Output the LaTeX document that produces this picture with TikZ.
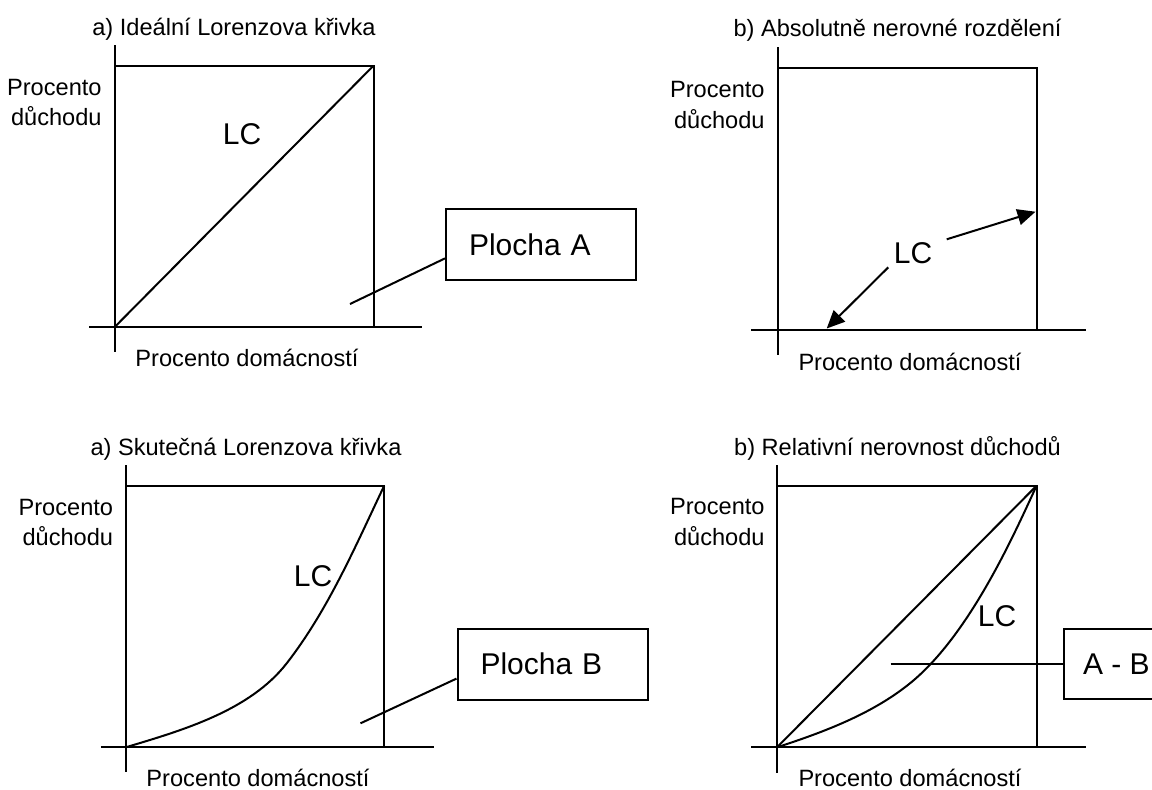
\documentclass[tikz,border=0pt]{standalone}
\usepackage{fontspec}
\setmainfont{Liberation Sans}
\usetikzlibrary{arrows.meta,calc}
\begin{document}
\begin{tikzpicture}[x=0.5pt,y=-0.5pt,
  ln/.style={line width=1pt},
  lbl/.style={font=\fontsize{11.8pt}{14pt}\selectfont, inner sep=0pt, anchor=base},
  lblr/.style={font=\fontsize{11.8pt}{14pt}\selectfont, inner sep=0pt, anchor=base east},
  big/.style={font=\fontsize{15pt}{18pt}\selectfont, inner sep=0pt, anchor=base},
  boxnode/.style={draw, line width=1pt, font=\fontsize{15pt}{18pt}\selectfont, anchor=west,
    minimum height=35.5pt, inner ysep=0pt, text width=72pt, inner xsep=11.5pt, align=left},
  abbox/.style={draw, line width=1pt, font=\fontsize{15pt}{18pt}\selectfont, anchor=west,
    minimum height=35pt, inner ysep=0pt, inner xsep=9.5pt},
  arr/.style={line width=1pt, -{Triangle[length=9pt,width=8pt]}}]
\useasboundingbox (0,0) rectangle (1152,789);
\clip (0,0) rectangle (1152,789);

% ---------- Panel 1 ----------
\coordinate (O1) at (115,326.7);
\coordinate (T1) at (373.5,65.7);
\coordinate (v1a) at (115,45);   \coordinate (v1b) at (115,352);
\coordinate (h1a) at (89,326.7); \coordinate (h1b) at (422,326.7);
\draw[ln] (v1a) -- (v1b);
\draw[ln] (h1a) -- (h1b);
\draw[ln] (O1 |- T1) -- (T1) -- (T1 |- O1);
\draw[ln] (O1) -- (T1);
\node[lbl] (t1) at (234,35.5) {a) Ideální Lorenzova křivka};
\node[lblr] (p1a) at (102,95) {Procento};
\node[lblr] (p1b) at (102,125) {důchodu};
\node[lbl] (x1) at (247,366.7) {Procento domácností};
\node[big] (lc1) at (242,144) {LC};
\node[boxnode] (boxA) at (445,244.5) {Plocha A};
\coordinate (pA) at (350,304);
\draw[ln] (pA) -- ($(boxA.south west)!0.31!(boxA.north west)$);

% ---------- Panel 2 ----------
\coordinate (O2) at (777.8,330);
\coordinate (T2) at (1036.6,68.3);
\coordinate (v2a) at (777.8,47);   \coordinate (v2b) at (777.8,355);
\coordinate (h2a) at (751,330);    \coordinate (h2b) at (1086,330);
\draw[ln] (v2a) -- (v2b);
\draw[ln] (h2a) -- (h2b);
\draw[ln] (O2 |- T2) -- (T2) -- (T2 |- O2);
\node[lbl] (t2) at (897.5,36) {b) Absolutně nerovné rozdělení};
\node[lblr] (p2a) at (765,97.3) {Procento};
\node[lblr] (p2b) at (765,128) {důchodu};
\node[lbl] (x2) at (910,370) {Procento domácností};
\node[big] (lc2) at (913,263.3) {LC};
\coordinate (a1s) at (946.7,239.3); \coordinate (a1e) at (1035.5,211.7);
\coordinate (a2s) at (888.3,267.3); \coordinate (a2e) at (826.7,328.5);
\draw[arr] (a1s) -- (a1e);
\draw[arr] (a2s) -- (a2e);

% ---------- Panel 3 ----------
\coordinate (O3) at (125.7,747.3);
\coordinate (T3) at (384.2,485.7);
\coordinate (m3) at (286.7,663.3);
\coordinate (v3a) at (125.7,465);   \coordinate (v3b) at (125.7,771.7);
\coordinate (h3a) at (100.8,747.3); \coordinate (h3b) at (433.6,747.3);
\draw[ln] (v3a) -- (v3b);
\draw[ln] (h3a) -- (h3b);
\draw[ln] (O3 |- T3) -- (T3) -- (T3 |- O3);
\draw[ln] (O3) .. controls (183.2,730.1) and (249.9,710.6) .. (m3)
               .. controls (328.1,610) and (355.2,546.7) .. (T3);
\node[lbl] (t3) at (246,455) {a) Skutečná Lorenzova křivka};
\node[lblr] (p3a) at (113.5,515) {Procento};
\node[lblr] (p3b) at (113.5,545) {důchodu};
\node[lbl] (x3) at (258,786) {Procento domácností};
\node[big] (lc3) at (313,586.5) {LC};
\node[boxnode] (boxB) at (456.5,664) {Plocha B};
\coordinate (pB) at (360.5,723.3);
\draw[ln] (pB) -- ($(boxB.south west)!0.30!(boxB.north west)$);

% ---------- Panel 4 ----------
\coordinate (O4) at (777,747.3);
\coordinate (T4) at (1036.6,485.7);
\coordinate (m4) at (910,683.3);
\coordinate (v4a) at (777,465);     \coordinate (v4b) at (777,773);
\coordinate (h4a) at (751.4,747.3); \coordinate (h4b) at (1086,747.3);
\draw[ln] (v4a) -- (v4b);
\draw[ln] (h4a) -- (h4b);
\draw[ln] (O4 |- T4) -- (T4) -- (T4 |- O4);
\draw[ln] (O4) -- (T4);
\draw[ln] (O4) .. controls (823.6,732.1) and (871.9,714.1) .. (m4)
               .. controls (970.6,634.2) and (1015.5,531) .. (T4);
\node[lbl] (t4) at (897.5,455) {b) Relativní nerovnost důchodů};
\node[lblr] (p4a) at (765,514) {Procento};
\node[lblr] (p4b) at (765,545) {důchodu};
\node[lbl] (x4) at (910,786) {Procento domácností};
\node[big] (lc4) at (997,626.7) {LC};
\node[abbox] (boxAB) at (1063,664) {A - B};
\coordinate (pAB) at (890.7,664);
\draw[ln] (pAB) -- (boxAB.west);
\end{tikzpicture}
\end{document}
